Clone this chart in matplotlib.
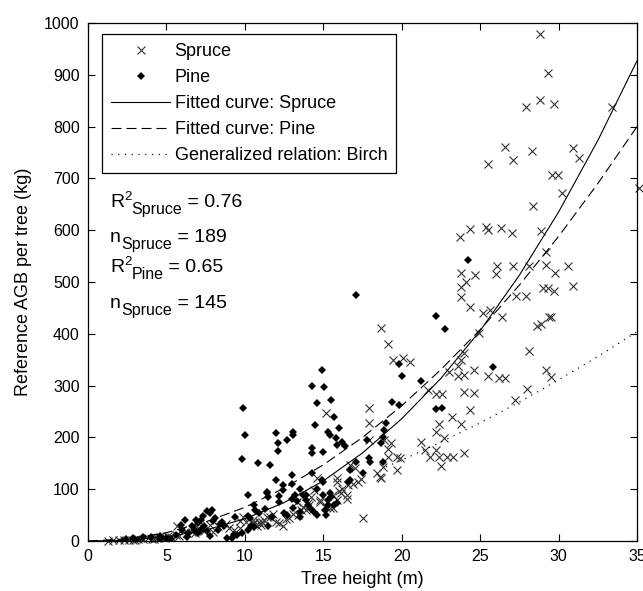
import matplotlib
matplotlib.use('Agg')
import matplotlib.pyplot as plt

plt.rcParams['font.family'] = ['Liberation Sans', 'DejaVu Sans']
plt.rcParams['mathtext.default'] = 'regular'

# scatter data: (tree height m, AGB kg)
spruce_h = [28.8, 29.3, 28.8, 27.9, 29.7, 33.4, 26.6, 27.1, 25.5, 28.3, 30.9, 31.3, 29.55, 29.98,
            30.25, 35.1, 28.4, 28.9, 29.2, 29.2, 29.8, 30.6, 30.9, 29.0, 29.3, 29.7, 28.1, 23.7,
            24.35, 25.4, 25.5, 26.3, 27.0, 23.75, 23.75, 23.75, 24.7, 24.1, 26.05, 26.0, 27.1, 27.3,
            27.9, 24.35, 26.4, 29.4, 28.6, 28.85, 29.5, 25.2, 25.6,
            18.7, 19.1, 19.46, 20.1, 20.5, 21.7, 22.2, 22.6, 24.35, 24.0, 24.6, 23.8, 23.2, 22.4,
            22.2, 22.7, 21.2, 21.5, 21.8, 22.4, 22.9, 23.3, 22.2, 22.5, 24.0, 19.9, 19.7, 23.0,
            23.6, 24.0, 24.6, 23.6, 23.8, 24.0, 24.9, 25.5, 26.2, 26.6, 27.2, 28.0, 28.1, 29.2,
            29.5, 17.9, 17.9, 17.5, 18.4, 18.7, 16.7, 17.2, 16.1, 16.5, 15.6, 15.9,
            15.17, 15.85, 17.0, 16.0, 16.5, 15.6, 14.6, 14.4, 14.0, 13.6, 13.3, 14.8, 15.2, 15.4,
            18.6, 18.8, 19.1, 19.1, 19.7, 17.9, 18.9, 19.3, 11.4, 11.2, 11.8, 12.2, 12.4, 10.5,
            10.8, 10.1, 15.85, 16.9, 16.6,
            9.9, 9.7, 10.5, 11.1, 11.6, 12.0, 13.1, 13.7, 14.8, 9.7, 10.56, 10.9, 12.8, 13.9, 14.2,
            1.3, 1.6, 2.0, 2.3, 2.6, 2.9, 3.2, 3.5, 3.8, 4.1, 4.4, 4.6, 4.9, 5.1, 5.3, 5.6, 5.7,
            6.0, 6.3, 6.6, 7.0, 7.4, 7.8, 8.3, 8.8, 9.3, 3.0, 4.2, 5.8, 6.8, 8.0, 9.0, 11.0, 12.6,
            13.4, 14.1, 16.2, 17.4]
spruce_agb = [979, 903, 851, 837, 843, 838, 761, 736, 728, 753, 758, 739, 707, 707,
              671, 681, 647, 599, 557, 533, 518, 531, 493, 488, 488, 483, 531, 586,
              602, 607, 600, 605, 594, 517, 491, 472, 514, 500, 530, 515, 530, 473,
              473, 452, 433, 433, 415, 419, 432, 440, 445,
              412, 380, 349, 353, 346, 291, 283, 283, 253, 288, 286, 226, 240, 226,
              211, 198, 192, 176, 163, 163, 163, 163, 176, 145, 169, 160, 137, 327,
              318, 320, 330, 337, 349, 362, 401, 318, 314, 314, 272, 293, 367, 331,
              316, 256, 227, 44, 131, 121, 147, 114, 92, 88, 63, 114,
              248, 121, 140, 96, 82, 89, 121, 98, 73, 60, 76, 76, 66, 64,
              124, 143, 163, 178, 163, 195, 195, 189, 47, 40, 53, 34, 28, 34,
              28, 36, 80, 111, 108,
              47, 38, 40, 37, 47, 37, 53, 66, 80, 25, 34, 37, 45, 60, 85,
              0, 1, 1, 2, 1, 2, 3, 4, 5, 3, 6, 8, 5, 10, 7, 12, 28,
              22, 15, 18, 25, 20, 30, 28, 33, 22, 1, 4, 9, 15, 18, 26, 30, 42,
              50, 70, 100, 120]

pine_h = [24.2, 22.2, 22.75, 17.1, 19.8, 20.0, 21.2, 14.9, 14.3, 15.06, 14.6, 15.5, 19.4, 19.8,
          22.2, 22.6, 25.8, 9.9, 10.0, 9.8, 10.85, 11.6, 12.0, 12.1, 12.1, 12.7, 13.1, 13.1,
          15.7, 14.5, 15.3, 16.0, 15.4, 15.8, 16.2, 15.9, 16.4, 14.3, 14.3, 15.0, 14.3, 17.8,
          17.9, 18.0, 17.1, 17.5, 18.8, 18.7, 18.8, 18.9, 19.0, 16.7, 16.7, 16.6, 15.85, 15.4,
          12.0, 12.45, 13.0, 11.4, 10.2, 10.6, 10.9, 10.2, 11.5, 12.2, 13.0, 13.3, 13.5, 13.9,
          14.6, 15.0, 13.1, 13.5, 12.7, 11.7, 11.3, 10.6, 10.2, 9.8, 9.5, 9.2, 11.4, 12.45,
          13.0, 12.2, 13.2, 13.7, 13.9, 14.9, 15.0, 15.3, 15.5, 13.5, 12.5, 14.0, 14.2, 14.4,
          15.2, 15.1, 15.3, 14.6, 15.7, 10.3, 10.4, 11.5,
          7.9, 10.66, 8.54, 9.39, 8.86, 9.29,
          7.6, 7.8, 7.2, 7.0, 7.4, 6.6, 6.4, 8.0, 7.6, 8.3, 7.0, 7.2, 6.0, 5.6, 4.6, 4.0, 3.5,
          2.9, 5.0, 4.6, 2.4, 6.2, 6.8, 7.8, 8.1, 5.3, 3.2, 6.3, 8.7, 7.3, 5.9, 6.9, 8.4]
pine_agb = [542, 434, 409, 474, 342, 318, 308, 330, 299, 297, 267, 272, 269, 263,
            254, 256, 335, 256, 205, 158, 150, 147, 208, 189, 174, 195, 211, 205,
            240, 224, 211, 218, 205, 199, 192, 186, 183, 179, 169, 172, 131, 195,
            160, 153, 153, 131, 153, 189, 201, 214, 227, 137, 118, 114, 73, 92,
            118, 108, 127, 92, 89, 70, 54, 48, 85, 76, 81, 78, 101, 88,
            101, 114, 63, 56, 50, 46, 61, 27, 21, 15, 12, 5, 95, 98,
            111, 87, 89, 89, 79, 118, 89, 80, 85, 47, 55, 70, 62, 56,
            50, 60, 70, 50, 69, 44, 28, 28,
            60, 60, 37, 47, 6, 12,
            58, 54, 41, 35, 28, 28, 15, 38, 19, 22, 15, 22, 22, 12, 9, 8, 8,
            5, 6, 4, 4, 41, 22, 10, 45, 3, 2, 8, 28, 48, 30, 40, 33]

# fitted curves
curve_h = [0, 2.5, 5, 7.5, 10, 12.5, 15, 17.5, 20, 22.5, 25, 27.5, 30, 32.5, 35]
spruce_fit = [0, 1.4, 8, 21, 43, 74, 116, 170, 236, 314, 406, 513, 635, 773, 927]
pine_fit = [0, 4, 16, 37, 65, 102, 147, 200, 261, 331, 408, 494, 588, 690, 800]
birch_h = [19, 20, 22.5, 25, 27.5, 30, 32.5, 35]
birch_rel = [143, 156, 191, 228, 268, 311, 356, 404]

fig = plt.figure(figsize=(6.43, 5.91), dpi=100)
ax = fig.add_axes([88/643, 1-541/591, 549/643, 518/591])

ax.plot(spruce_h, spruce_agb, 'x', color='#333333', ms=5.5, mew=0.8,
        label='Spruce', clip_on=False)
ax.plot(pine_h, pine_agb, 'D', color='black', ms=3.6, mew=0,
        label='Pine')
ax.plot(curve_h, spruce_fit, '-', color='black', lw=0.8, label='Fitted curve: Spruce')
ax.plot(curve_h, pine_fit, color='black', lw=0.8, dashes=[9, 4.5],
        label='Fitted curve: Pine')
ax.plot(birch_h, birch_rel, color='black', lw=0.9, dashes=[0.9, 4.5],
        label='Generalized relation: Birch')

ax.set_xlim(0, 35)
ax.set_ylim(0, 1000)
ax.set_xticks(range(0, 36, 5))
ax.set_yticks(range(0, 1001, 100))
ax.tick_params(direction='in', top=True, right=True, length=5, width=0.8,
               labelsize=11.5, pad=6)
for s in ax.spines.values():
    s.set_linewidth(0.9)
ax.set_xlabel('Tree height (m)', fontsize=13, labelpad=5)
ax.set_ylabel('Reference AGB per tree (kg)', fontsize=13, labelpad=9)

leg = ax.legend(loc='upper left', bbox_to_anchor=(0.0255, 0.979), fontsize=13,
                handlelength=3.27, handletextpad=0.25, labelspacing=0.5,
                borderpad=0.5, borderaxespad=0, fancybox=False, framealpha=1,
                edgecolor='black')
leg.get_frame().set_linewidth(0.9)

# annotation lines built piece by piece: (text, size, vertical shift in points)
notes = [(645, [('R', 14, 0), ('2', 9.5, 5), ('Spruce', 11.5, -5), (' = 0.76', 14, 0)]),
         (577, [('n', 14, 0), ('Spruce', 11.5, -5), (' = 189', 14, 0)]),
         (519, [('R', 14, 0), ('2', 9.5, 5), ('Pine', 11.5, -5), (' = 0.65', 14, 0)]),
         (450, [('n', 14, 0), ('Spruce', 11.5, -5), (' = 145', 14, 0)])]
renderer = fig.canvas.get_renderer()
for yv, parts in notes:
    dx = 0.0
    for s, size, dy in parts:
        t = ax.annotate(s, xy=(1.4, yv), xytext=(dx, dy), textcoords='offset points',
                        fontsize=size, va='baseline', ha='left')
        dx += t.get_window_extent(renderer).width * 72 / fig.dpi

fig.savefig('out.png', dpi=100)
